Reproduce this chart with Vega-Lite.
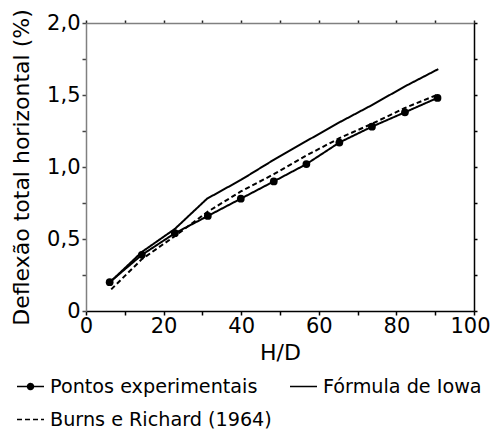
{
  "$schema": "https://vega.github.io/schema/vega-lite/v6.json",
  "width": 388,
  "height": 288,
  "autosize": {"type": "none"},
  "padding": {"left": 86, "top": 23, "right": 18, "bottom": 118},
  "background": "white",
  "config": {
    "font": "DejaVu Sans",
    "view": {"stroke": null},
    "axis": {"grid": false, "domainWidth": 1.5, "tickWidth": 1.5, "labelColor": "black", "titleColor": "black", "labelFontSize": 21, "titleFontSize": 22, "titleFontWeight": "normal", "labelFlush": false}
  },
  "data": {
    "values": [
      {"series": "Pontos experimentais", "x": 6.1, "y": 0.20},
      {"series": "Pontos experimentais", "x": 14.4, "y": 0.39},
      {"series": "Pontos experimentais", "x": 22.9, "y": 0.54},
      {"series": "Pontos experimentais", "x": 31.4, "y": 0.66},
      {"series": "Pontos experimentais", "x": 39.9, "y": 0.78},
      {"series": "Pontos experimentais", "x": 48.4, "y": 0.90},
      {"series": "Pontos experimentais", "x": 56.8, "y": 1.02},
      {"series": "Pontos experimentais", "x": 65.3, "y": 1.17},
      {"series": "Pontos experimentais", "x": 73.7, "y": 1.28},
      {"series": "Pontos experimentais", "x": 82.2, "y": 1.38},
      {"series": "Pontos experimentais", "x": 90.6, "y": 1.48},
      {"series": "Fórmula de Iowa", "x": 5.8, "y": 0.19},
      {"series": "Fórmula de Iowa", "x": 14.4, "y": 0.41},
      {"series": "Fórmula de Iowa", "x": 22.9, "y": 0.57},
      {"series": "Fórmula de Iowa", "x": 31.2, "y": 0.78},
      {"series": "Fórmula de Iowa", "x": 39.9, "y": 0.91},
      {"series": "Fórmula de Iowa", "x": 48.4, "y": 1.05},
      {"series": "Fórmula de Iowa", "x": 56.8, "y": 1.18},
      {"series": "Fórmula de Iowa", "x": 65.3, "y": 1.31},
      {"series": "Fórmula de Iowa", "x": 73.7, "y": 1.43},
      {"series": "Fórmula de Iowa", "x": 82.2, "y": 1.56},
      {"series": "Fórmula de Iowa", "x": 90.8, "y": 1.68},
      {"series": "Burns e Richard (1964)", "x": 6.5, "y": 0.15},
      {"series": "Burns e Richard (1964)", "x": 14.4, "y": 0.36},
      {"series": "Burns e Richard (1964)", "x": 22.9, "y": 0.52},
      {"series": "Burns e Richard (1964)", "x": 31.4, "y": 0.69},
      {"series": "Burns e Richard (1964)", "x": 39.9, "y": 0.83},
      {"series": "Burns e Richard (1964)", "x": 48.4, "y": 0.95},
      {"series": "Burns e Richard (1964)", "x": 56.8, "y": 1.08},
      {"series": "Burns e Richard (1964)", "x": 65.3, "y": 1.20},
      {"series": "Burns e Richard (1964)", "x": 73.7, "y": 1.30},
      {"series": "Burns e Richard (1964)", "x": 82.2, "y": 1.41},
      {"series": "Burns e Richard (1964)", "x": 90.4, "y": 1.50}
    ]
  },
  "layer": [
    {
      "mark": {"type": "line", "color": "black", "strokeWidth": 2},
      "encoding": {
        "x": {"field": "x", "type": "quantitative", "scale": {"domain": [0, 100], "nice": false, "zero": false},
          "axis": {"orient": "bottom", "title": "H/D", "values": [0, 10, 20, 30, 40, 50, 60, 70, 80, 90, 100],
            "labelExpr": "datum.value % 20 === 0 ? format(datum.value, 'd') : ''",
            "labelOffset": {"condition": {"test": "datum.value === 100", "value": -4}, "value": 0},
            "domainColor": "black", "tickColor": "black",
            "tickSize": 4, "labelPadding": 0, "titlePadding": 6}},
        "y": {"field": "y", "type": "quantitative", "scale": {"domain": [0, 2], "nice": false, "zero": false},
          "axis": {"orient": "left", "title": "Deflexão total horizontal (%)", "values": [0, 0.25, 0.5, 0.75, 1, 1.25, 1.5, 1.75, 2],
            "labelExpr": "datum.value === 0 ? '0' : ((datum.value * 2) % 1 === 0 ? replace(format(datum.value, '.1f'), '.', ',') : '')",
            "domainColor": "#808080", "tickColor": "#444",
            "tickSize": 4, "labelPadding": 2, "titlePadding": 13}},
        "strokeDash": {"field": "series", "type": "nominal",
          "scale": {"domain": ["Pontos experimentais", "Fórmula de Iowa", "Burns e Richard (1964)"], "range": [[1, 0], [1, 0], [5, 3]]},
          "legend": {"title": null, "orient": "none", "legendX": -70, "legendY": 349, "columns": 2, "direction": "horizontal", "gridAlign": "none",
            "symbolType": "stroke", "symbolSize": 729, "symbolStrokeWidth": 1.5, "symbolStrokeColor": "black",
            "labelFontSize": 19.2, "labelColor": "black", "labelOffset": 5, "labelLimit": 0, "rowPadding": 8, "columnPadding": 15, "symbolOffset": 0,
            "encode": {"symbols": {"update": {
              "shape": {"signal": "datum.value === 'Pontos experimentais' ? 'M-1,0H1M-0.22,0A0.22,0.22,0,1,0,0.22,0A0.22,0.22,0,1,0,-0.22,0Z' : 'stroke'"},
              "fill": {"value": "black"}, "stroke": {"value": "black"}, "opacity": {"value": 1}}}}}}
      }
    },
    {
      "transform": [{"filter": "datum.series === 'Pontos experimentais'"}],
      "mark": {"type": "point", "filled": true, "color": "black", "size": 60, "opacity": 1},
      "encoding": {
        "x": {"field": "x", "type": "quantitative",
          "axis": {"orient": "top", "title": null, "labels": false, "values": [0, 10, 20, 30, 40, 50, 60, 70, 80, 90, 100], "tickSize": 3, "domainColor": "#808080", "tickColor": "#222"}},
        "y": {"field": "y", "type": "quantitative",
          "axis": {"orient": "right", "title": null, "labels": false, "values": [0, 0.25, 0.5, 0.75, 1, 1.25, 1.5, 1.75, 2], "tickSize": 3, "domainColor": "black", "tickColor": "black"}}
      }
    }
  ],
  "resolve": {"axis": {"x": "independent", "y": "independent"}}
}
